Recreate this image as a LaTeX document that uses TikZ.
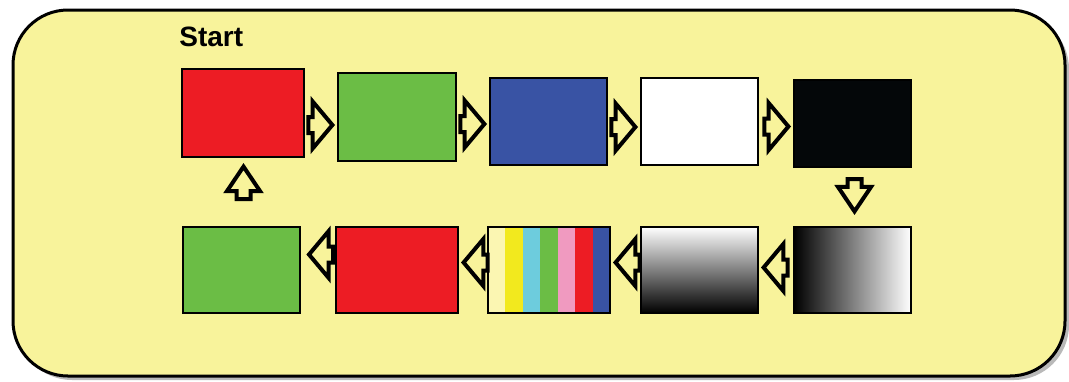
\documentclass[tikz,border=0pt]{standalone}
\usepackage{fontspec}
\setmainfont{Liberation Sans}
\usepackage{tikz}
\usetikzlibrary{positioning,shapes.arrows,calc}
\definecolor{panel}{RGB}{248,243,155}
\definecolor{cream}{RGB}{251,246,178}
\definecolor{cardred}{RGB}{237,28,36}
\definecolor{cardgreen}{RGB}{107,189,69}
\definecolor{cardblue}{RGB}{57,83,164}
\definecolor{cardblack}{RGB}{4,7,9}
\definecolor{baryellow}{RGB}{242,233,30}
\definecolor{barcyan}{RGB}{109,204,221}
\definecolor{barpink}{RGB}{240,154,192}

\begin{document}
\begin{tikzpicture}[
  card/.style={draw=black, line width=0.8pt, minimum width=58.5pt, minimum height=43.5pt, inner sep=0pt, outer sep=0pt},
  harrow/.style={single arrow, draw=black, line width=2pt, fill=panel, inner xsep=1.5pt, inner ysep=3pt,
    single arrow head extend=7.75pt, single arrow tip angle=100, minimum height=12pt},
  varrow/.style={harrow, inner xsep=0.5pt, inner ysep=2.5pt, single arrow head extend=4.75pt, single arrow tip angle=68, minimum height=16.2pt}
]
\useasboundingbox (0,0) rectangle (534.5pt,-190.5pt);
% frame with its shadow
\fill[gray!55, rounded corners=27.5pt] (8.5pt,-7pt) rectangle (534.5pt,-190pt);
\draw[line width=1.5pt, fill=panel, rounded corners=27.5pt] (6.5pt,-5pt) rectangle (532.5pt,-188pt);

% top row
\node[card, fill=cardred, minimum width=61pt, minimum height=44pt] (r1) at (121.5pt,-56.5pt) {};
\node[card, fill=cardgreen, minimum width=59pt, minimum height=44pt, right=17pt of r1, yshift=-2pt] (g1) {};
\node[card, fill=cardblue, right=17pt of g1, yshift=-2.25pt] (b1) {};
\node[card, fill=white, right=17pt of b1] (w1) {};
\node[card, fill=cardblack, right=18pt of w1, yshift=-1pt] (k1) {};

% bottom row
\node[card, minimum height=43pt, left color=black, middle color=black!35, right color=white, below=30pt of k1] (h2) {};
\node[card, minimum height=43pt, top color=white, middle color=black!30, bottom color=black, left=18pt of h2] (v2) {};
\node[card, minimum height=43pt, minimum width=61pt, left=15.5pt of v2, path picture={
    \foreach \c [count=\i from 0] in {cream,baryellow,barcyan,cardgreen,barpink,cardred,cardblue}
      \fill[\c] ($(path picture bounding box.south west)!{\i/7}!(path picture bounding box.south east)$)
        rectangle ($(path picture bounding box.north west)!{(\i+1)/7}!(path picture bounding box.north east)$);
  }] (s2) {};
\node[card, fill=cardred, minimum height=43pt, minimum width=61pt, left=15pt of s2] (r2) {};
\node[card, fill=cardgreen, minimum height=43pt, left=18pt of r2] (g2) {};

\node[font=\bfseries\fontsize{14}{16}\selectfont, inner sep=0pt, anchor=base west, xshift=-1.5pt, yshift=11.5pt] (start) at (r1.north west) {Start};

% block arrows
\node[harrow, anchor=tip, xshift=-1.5pt, yshift=-4pt] (a12) at (g1.west) {};
\node[harrow, anchor=tip, xshift=-1.5pt, yshift=-1.25pt] (a23) at (b1.west) {};
\node[harrow, anchor=tip, xshift=-1.5pt, yshift=-2.75pt] (a34) at (w1.west) {};
\node[harrow, anchor=tip, xshift=-1.5pt, yshift=-1.5pt] (a45) at (k1.west) {};
\node[varrow, anchor=tail, xshift=1pt, yshift=-5pt, rotate=-90] (a56) at (k1.south) {};
\node[harrow, anchor=tip, xshift=1.5pt, yshift=1.25pt, rotate=180] (a67) at (v2.east) {};
\node[harrow, anchor=tip, xshift=1.5pt, yshift=3.75pt, rotate=180] (a78) at (s2.east) {};
\node[harrow, anchor=tip, xshift=1.5pt, yshift=3.75pt, rotate=180] (a89) at (r2.east) {};
\node[harrow, anchor=tail, xshift=-0.5pt, yshift=7.75pt, rotate=180] (a910) at (r2.west) {};
\node[varrow, anchor=tail, xshift=1pt, yshift=13pt, rotate=90] (a101) at (g2.north) {};
\end{tikzpicture}
\end{document}
